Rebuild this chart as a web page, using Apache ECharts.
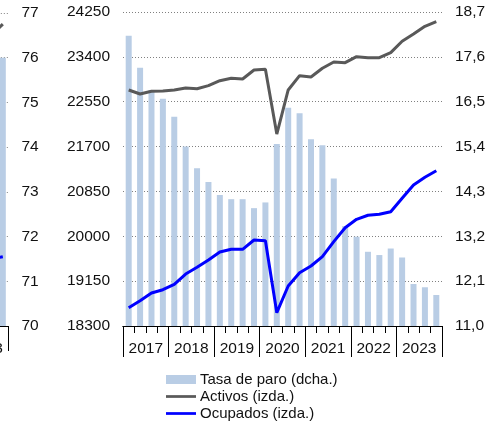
<!DOCTYPE html>
<html>
<head>
<meta charset="utf-8">
<script src="https://cdn.jsdelivr.net/npm/echarts@6/dist/echarts.min.js"></script>
<style>
html,body{margin:0;padding:0;background:#fff;}
#c{width:490px;height:422px;}
</style>
</head>
<body>
<div id="c"></div>
<script>
// ---- Main chart data ----
const quarters = [
 '2017T1','2017T2','2017T3','2017T4','2018T1','2018T2','2018T3','2018T4',
 '2019T1','2019T2','2019T3','2019T4','2020T1','2020T2','2020T3','2020T4',
 '2021T1','2021T2','2021T3','2021T4','2022T1','2022T2','2022T3','2022T4',
 '2023T1','2023T2','2023T3','2023T4'];
const years = ['2017','2018','2019','2020','2021','2022','2023'];
const tasaParo = [18.12,17.33,16.79,16.57,16.13,15.40,14.87,14.53,14.21,14.11,14.11,13.89,14.03,
  15.46,16.35,16.22,15.58,15.43,14.62,13.45,13.19,12.82,12.74,12.90,12.68,12.03,11.95,11.76];
const activos = [22772,22696,22747,22753,22772,22810,22797,22854,22949,22994,22980,23151,23164,
  21938,22772,23044,23019,23183,23303,23290,23404,23385,23385,23480,23695,23833,23979,24067];
const ocupados = [18647,18780,18925,18988,19090,19285,19412,19551,19702,19753,19753,19930,19917,
  18552,19058,19310,19437,19613,19898,20163,20322,20398,20417,20466,20720,20972,21118,21243];
const leftTicks = {min:18300, max:24250, step:850};
const rightTicks = {min:11.0, max:18.7, step:1.1};
const seriesNames = ['Tasa de paro (dcha.)','Activos (izda.)','Ocupados (izda.)'];

// ---- Neighbouring chart (cropped at the left edge) ----
const nbQuarters = ['2021T1','2021T2','2021T3','2021T4','2022T1','2022T2','2022T3','2022T4','2023T1','2023T2','2023T3','2023T4'];
const nbYears = ['2021','2022','2023'];
const nbBar = [null,null,null,null,null,null,null,null,null,null,null,76.0];
const nbDark = [null,null,null,null,null,null,null,null,null,null,76.5,76.75];
const nbBlue = [null,null,null,null,null,null,null,null,null,null,71.5,71.55];
const nbTicks = {min:70, max:77, step:1};

const FONT = "'Liberation Sans', Arial, sans-serif";
const TXT = '#111';
const GRIDLINE = {show:true, lineStyle:{color:'#808080', width:1, type:[1,2]}};
const LINE_ICON = 'path://M0,0H33V3H0Z';

const chart = echarts.init(document.getElementById('c'), null, {renderer:'canvas'});
const nbRight = 8.5;
const nbWidth = nbQuarters.length * 11.39;

chart.setOption({
  animation:false,
  textStyle:{fontFamily:FONT},
  grid:[
    {left:123, right:48, top:12, bottom:96, containLabel:false, outerBoundsMode:'none'},
    {left:nbRight-nbWidth, width:nbWidth, top:13, bottom:96, containLabel:false, outerBoundsMode:'none'}
  ],
  legend:{
    orient:'vertical', left:166, top:372, padding:0,
    itemWidth:30, itemHeight:9, itemGap:2, symbolKeepAspect:true,
    data:[
      {name:seriesNames[0], icon:'rect'},
      {name:seriesNames[1], icon:LINE_ICON},
      {name:seriesNames[2], icon:LINE_ICON}
    ],
    textStyle:{fontFamily:FONT, fontSize:15, color:TXT, lineHeight:15, padding:[0,0,0,-1]},
    selectedMode:false
  },
  xAxis:[
    {type:'category', gridIndex:0, data:quarters, boundaryGap:true, position:'bottom',
     axisLine:{show:true, lineStyle:{color:'#000', width:1}},
     axisTick:{show:true, interval:0, length:7, lineStyle:{color:'#000'}},
     axisLabel:{show:false}, splitLine:{show:false}},
    {type:'category', gridIndex:0, data:years, boundaryGap:true, position:'bottom',
     axisLine:{show:true, lineStyle:{color:'#000', width:1}},
     axisTick:{show:true, interval:0, length:31, lineStyle:{color:'#000'}},
     axisLabel:{show:true, interval:0, margin:15, fontSize:15.5, color:TXT, fontFamily:FONT},
     splitLine:{show:false}},
    {type:'category', gridIndex:1, data:nbQuarters, boundaryGap:true, position:'bottom',
     axisLine:{show:true, lineStyle:{color:'#000', width:1}},
     axisTick:{show:true, interval:0, length:7, lineStyle:{color:'#000'}},
     axisLabel:{show:false}},
    {type:'category', gridIndex:1, data:nbYears, boundaryGap:true, position:'bottom',
     axisLine:{show:true, lineStyle:{color:'#000', width:1}},
     axisTick:{show:true, interval:0, length:25, lineStyle:{color:'#000'}},
     axisLabel:{show:true, interval:0, margin:15, fontSize:15.5, color:TXT, fontFamily:FONT}}
  ],
  yAxis:[
    {type:'value', gridIndex:0, position:'left', min:leftTicks.min, max:leftTicks.max, interval:leftTicks.step,
     axisLine:{show:false}, axisTick:{show:false},
     axisLabel:{margin:13, fontSize:15.5, color:TXT, fontFamily:FONT, formatter:v=>String(Math.round(v))},
     splitLine:GRIDLINE},
    {type:'value', gridIndex:0, position:'right', min:rightTicks.min, max:rightTicks.max, interval:rightTicks.step,
     axisLine:{show:false}, axisTick:{show:false},
     axisLabel:{margin:13, fontSize:15.5, color:TXT, fontFamily:FONT, formatter:v=>v.toFixed(1).replace('.',',')},
     splitLine:{show:false}},
    {type:'value', gridIndex:1, position:'right', min:nbTicks.min, max:nbTicks.max, interval:nbTicks.step,
     axisLine:{show:false}, axisTick:{show:false},
     axisLabel:{margin:13, fontSize:15.5, color:TXT, fontFamily:FONT, formatter:v=>String(Math.round(v))},
     splitLine:GRIDLINE}
  ],
  series:[
    {name:seriesNames[0], type:'bar', xAxisIndex:0, yAxisIndex:1, data:tasaParo,
     barWidth:6, itemStyle:{color:'#b9cde5'}, z:1},
    {name:seriesNames[1], type:'line', xAxisIndex:0, yAxisIndex:0, data:activos,
     symbol:'none', lineStyle:{color:'#595959', width:3}, itemStyle:{color:'#595959'}, z:3},
    {name:seriesNames[2], type:'line', xAxisIndex:0, yAxisIndex:0, data:ocupados,
     symbol:'none', lineStyle:{color:'#0000ff', width:3}, itemStyle:{color:'#0000ff'}, z:3},
    {name:'nbBar', type:'bar', xAxisIndex:2, yAxisIndex:2, data:nbBar,
     barWidth:6, itemStyle:{color:'#b9cde5'}, z:1},
    {name:'nbDark', type:'line', xAxisIndex:2, yAxisIndex:2, data:nbDark, connectNulls:false,
     symbol:'none', lineStyle:{color:'#595959', width:3}, z:3},
    {name:'nbBlue', type:'line', xAxisIndex:2, yAxisIndex:2, data:nbBlue, connectNulls:false,
     symbol:'none', lineStyle:{color:'#0000ff', width:3}, z:3}
  ]
});
</script>
</body>
</html>
